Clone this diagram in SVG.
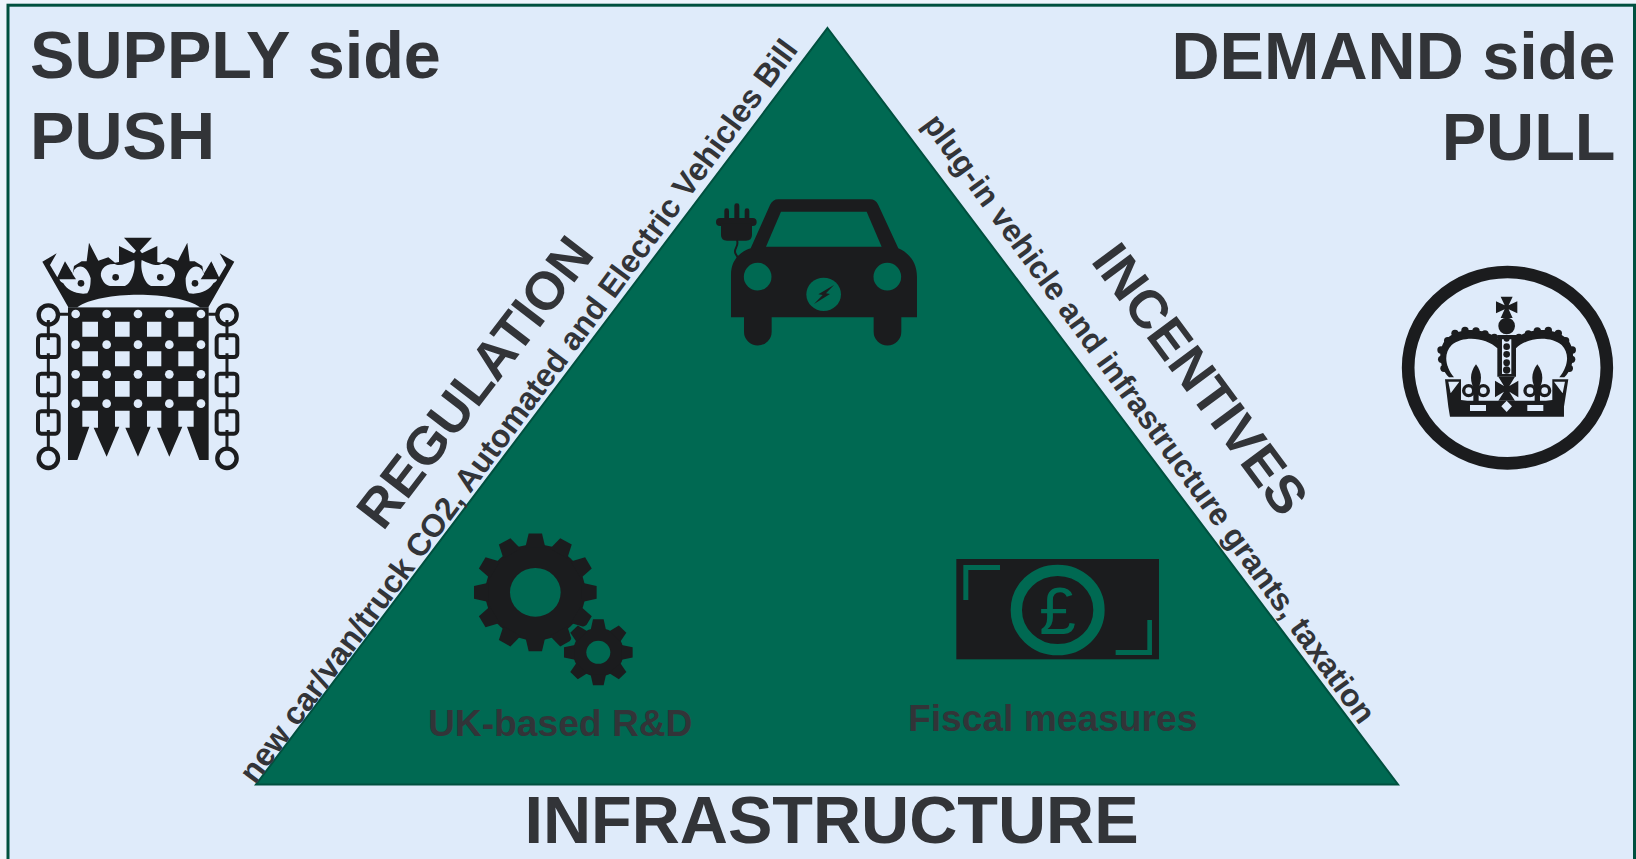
<svg xmlns="http://www.w3.org/2000/svg" width="1636" height="859" viewBox="0 0 1636 859">
<style>
text{font-family:"Liberation Sans",Arial,sans-serif;font-weight:700;fill:#323438}
.h{font-size:66.6px}
.r{font-size:32px}
.r2{font-size:31.6px}
.big{font-size:53.5px}
.m{font-size:37.2px}
.k{fill:#1b1c1e}
.g{fill:#006952}
.b{fill:#dfebfa}
.chain{fill:none;stroke:#1b1c1e}
</style>
<defs>
<polygon id="t1" points="-30,-140 -20,-184 20,-184 30,-140"/>
<polygon id="t2" points="-23,-70 -16,-103 16,-103 23,-70"/>
<g id="chain">
<circle cx="0" cy="345" r="29" class="chain" stroke-width="13"/>
<circle cx="0" cy="775" r="29" class="chain" stroke-width="13"/>
<rect x="-31" y="406" width="62" height="65" rx="10" class="chain" stroke-width="12"/>
<rect x="-31" y="521" width="62" height="65" rx="10" class="chain" stroke-width="12"/>
<rect x="-31" y="634" width="62" height="67" rx="10" class="chain" stroke-width="12"/>
<path d="M0 360V420M0 460V535M0 575V650M0 690V745" class="chain" stroke-width="9"/>
</g>
<g id="fleur">
<path d="M0 343C20 370 20 395 0 428C-20 395 -20 370 0 343Z"/>
<circle cx="-22" cy="422" r="15" fill="none" stroke="#1b1c1e" stroke-width="10"/>
<circle cx="22" cy="422" r="15" fill="none" stroke="#1b1c1e" stroke-width="10"/>
<rect x="-8" y="420" width="16" height="40"/>
</g>
</defs>
<rect width="1636" height="859" fill="#eef4fc"/>
<rect id="frame" x="8" y="5.200" width="1626.500" height="870" class="b" stroke="#00503f" stroke-width="3"/>
<g id="triangle"><polygon points="827.5,28 1398,784.5 256,784.5" class="g" stroke="#00503f" stroke-width="2"/></g>
<g id="supply-title"><text class="h" x="30" y="78">SUPPLY side</text><text class="h" x="30" y="159">PUSH</text></g>
<g id="demand-title"><text class="h" x="1615.500" y="79" text-anchor="end">DEMAND side</text><text class="h" x="1615.500" y="160" text-anchor="end">PULL</text></g>
<g id="infrastructure"><text class="h" x="831.500" y="843" text-anchor="middle">INFRASTRUCTURE</text></g>
<g id="regulation"><text class="big" transform="translate(383,532) rotate(-52.5)">REGULATION</text>
<text class="r" transform="translate(255,785) rotate(-53.500)">new car/van/truck CO2, Automated and Electric Vehicles Bill</text></g>
<g id="incentives"><text class="big" transform="translate(1090,261) rotate(53.5)">INCENTIVES</text>
<text class="r2" transform="translate(922,124) rotate(53.96)">plug-in vehicle and infrastructure grants, taxation</text></g>
<g id="rd-label"><text class="m" x="428" y="736">UK-based R&amp;D</text></g>
<g id="fiscal-label"><text class="m" x="908" y="731">Fiscal measures</text></g>

<g id="portcullis" transform="translate(0,200) scale(.3333)">
<path class="k" fill-rule="evenodd" d="M204 322H626V780H598L561 680H581V632H535V680H547L508 770L471 683H484V632H441V680H452L414 770L376 683H389V632H345V680H358L320 770L281 683H294V632H247V680H268L232 780H204ZM247 365V410H294V365ZM345 365V410H389V365ZM441 365V410H484V365ZM535 365V410H581V365ZM247 454V499H294V454ZM345 454V499H389V454ZM441 454V499H484V454ZM535 454V499H581V454ZM247 543V590H294V543ZM345 543V590H389V543ZM441 543V590H484V543ZM535 543V590H581V543Z"/>
<g class="b"><circle cx="227" cy="342" r="13"/><circle cx="320" cy="342" r="13"/><circle cx="414" cy="342" r="13"/><circle cx="508" cy="342" r="13"/><circle cx="603" cy="342" r="13"/><circle cx="227" cy="434" r="13"/><circle cx="320" cy="434" r="13"/><circle cx="414" cy="434" r="13"/><circle cx="508" cy="434" r="13"/><circle cx="603" cy="434" r="13"/><circle cx="227" cy="523" r="13"/><circle cx="320" cy="523" r="13"/><circle cx="414" cy="523" r="13"/><circle cx="508" cy="523" r="13"/><circle cx="603" cy="523" r="13"/><circle cx="227" cy="611" r="13"/><circle cx="320" cy="611" r="13"/><circle cx="414" cy="611" r="13"/><circle cx="508" cy="611" r="13"/><circle cx="603" cy="611" r="13"/></g>
<path class="k" d="M205 322L127 185L170 160L150 195L172 232L195 184L218 222L222 198L245 184L260 184L267 128L295 182L325 172L345 188L357 186V138L402 160L408 152L372 113H456L420 152L426 160L472 138V186L484 188L504 172L534 182L562 128L569 184L584 184L607 198L611 222L634 184L657 232L679 195L659 160L703 185L625 322Z"/>
<path class="b" d="M232 322C300 272 530 272 600 322Z"/>
<path class="b" d="M305 235C296 215 312 190 345 192C355 200 380 192 403 180C408 210 395 250 375 258H330C315 255 310 245 305 235Z"/>
<path class="b" d="M523 235C532 215 516 190 483 192C473 200 448 192 425 180C420 210 433 250 453 258H498C513 255 518 245 523 235Z"/>
<path class="b" d="M222 210C240 190 262 200 272 235C272 262 268 270 262 280C230 285 200 270 190 250C170 238 180 235 195 215C205 225 215 235 222 210Z"/>
<path class="b" d="M607 210C590 190 567 200 557 235C557 262 561 270 567 280C600 285 630 270 640 250C660 238 650 235 635 215C625 225 615 235 607 210Z"/>
<g class="k"><polygon points="195,188 228,238 172,238"/><polygon points="635,188 602,238 658,238"/><circle cx="347" cy="232" r="10"/><circle cx="481" cy="232" r="10"/><circle cx="243" cy="250" r="10"/><circle cx="585" cy="250" r="10"/></g>
<path d="M175 343H205M625 343H650" class="chain" stroke-width="9"/>
<use href="#chain" x="145"/><use href="#chain" x="681"/>
</g>

<g id="crown" transform="translate(1380,250) scale(.3333)">
<ellipse cx="382.5" cy="353" rx="298" ry="287" fill="none" stroke="#1b1c1e" stroke-width="38"/>
<g class="k">
<path d="M362 140H398L386 166L412 154V190L386 178L398 204H362L374 178L348 190V154L374 166Z"/>
<circle cx="380" cy="228" r="25"/>
<path d="M352 380V295C320 262 250 255 215 285C190 310 195 350 222 382H207C175 350 170 290 205 262C250 225 330 240 352 268V255H408V268C430 240 510 225 555 262C590 290 585 350 553 382H538C565 350 570 310 545 285C510 255 440 262 408 295V380Z"/>
<circle cx="185" cy="328" r="11"/><circle cx="183" cy="300" r="11"/><circle cx="203" cy="272" r="11"/><circle cx="225" cy="250" r="11"/><circle cx="255" cy="241" r="11"/><circle cx="288" cy="243" r="11"/><circle cx="315" cy="252" r="11"/><circle cx="343" cy="262" r="11"/><circle cx="192" cy="355" r="11"/><circle cx="575" cy="328" r="11"/><circle cx="577" cy="300" r="11"/><circle cx="557" cy="272" r="11"/><circle cx="535" cy="250" r="11"/><circle cx="505" cy="241" r="11"/><circle cx="472" cy="243" r="11"/><circle cx="445" cy="252" r="11"/><circle cx="417" cy="262" r="11"/><circle cx="568" cy="355" r="11"/>
<path d="M195 388H243V450L262 452L498 452L517 450V388H565L552 470L552 500H210L205 470Z"/>
<path d="M355 380H405L388 408L415 392V442L388 425L405 452H355L372 425L345 442V392L372 408Z"/>
<use href="#fleur" x="288"/><use href="#fleur" x="472"/>
</g>
<path class="b" d="M366 268H394V372H366ZM270 465H318V483H270ZM442 465H490V483H442ZM380 452L396 469L380 486L364 469Z"/>
<g class="k"><circle cx="380" cy="266" r="9"/><circle cx="380" cy="290" r="10"/><circle cx="380" cy="313" r="10"/><circle cx="380" cy="338" r="10"/><circle cx="380" cy="360" r="11"/></g>
<path class="b" d="M205 395L238 395L212 430ZM555 395L522 395L548 430Z"/>
</g>

<g id="car" transform="translate(690,180) scale(.3333)">
<path class="k" d="M123 412V285C123 240 150 215 182 205L240 75Q248 58 265 58H540Q558 58 565 75L625 205C660 220 681 250 681 290V412H634V455A41 41 0 0 1 551 455V412H245V455A41 41 0 0 1 162 455V412Z"/>
<path class="g" d="M228 200L273 95H530L575 200Z"/>
<circle class="g" cx="203" cy="290" r="41.500"/><circle class="g" cx="592" cy="290" r="41.500"/>
<ellipse class="g" cx="401" cy="343" rx="52" ry="50"/>
<polygon class="k" points="372,372 398,345 385,343 432,315 408,340 420,342"/>
<g class="k"><rect x="103" y="85" width="14" height="40" rx="7"/><rect x="133" y="70" width="15" height="55" rx="7"/><rect x="164" y="85" width="14" height="40" rx="7"/><rect x="78" y="114" width="122" height="24" rx="12"/><path d="M93 130H186V165Q186 182 168 182H111Q93 182 93 165Z"/></g>
<path d="M141 180C148 200 130 205 136 220L143 232" fill="none" stroke="#1b1c1e" stroke-width="6"/>
</g>

<g id="gears" transform="translate(450,520) scale(.3333)">
<g class="k" transform="translate(256,217) scale(1,.96)">
<circle r="150"/>
<use href="#t1"/><use href="#t1" transform="rotate(30)"/><use href="#t1" transform="rotate(60)"/><use href="#t1" transform="rotate(90)"/><use href="#t1" transform="rotate(120)"/><use href="#t1" transform="rotate(150)"/><use href="#t1" transform="rotate(180)"/><use href="#t1" transform="rotate(210)"/><use href="#t1" transform="rotate(240)"/><use href="#t1" transform="rotate(270)"/><use href="#t1" transform="rotate(300)"/><use href="#t1" transform="rotate(330)"/>
<circle r="76" class="g"/>
</g>
<g transform="translate(445,397) scale(1,.96)">
<circle r="92" class="g"/>
<g class="k"><circle r="76"/>
<use href="#t2"/><use href="#t2" transform="rotate(45)"/><use href="#t2" transform="rotate(90)"/><use href="#t2" transform="rotate(135)"/><use href="#t2" transform="rotate(180)"/><use href="#t2" transform="rotate(225)"/><use href="#t2" transform="rotate(270)"/><use href="#t2" transform="rotate(315)"/></g>
<circle r="36" class="g"/>
</g>
</g>

<g id="banknote" transform="translate(940,540) scale(.3333)">
<rect class="k" x="49" y="57" width="608" height="301"/>
<path class="g" d="M70 75H180V90H85V180H70ZM636 345H527V330H622V240H636Z"/>
<ellipse cx="353" cy="210" rx="124" ry="119" fill="none" stroke="#006952" stroke-width="34"/>
<text x="353" y="282" text-anchor="middle" style="font-size:198px;font-weight:400;fill:#006952">£</text>
</g>
</svg>
